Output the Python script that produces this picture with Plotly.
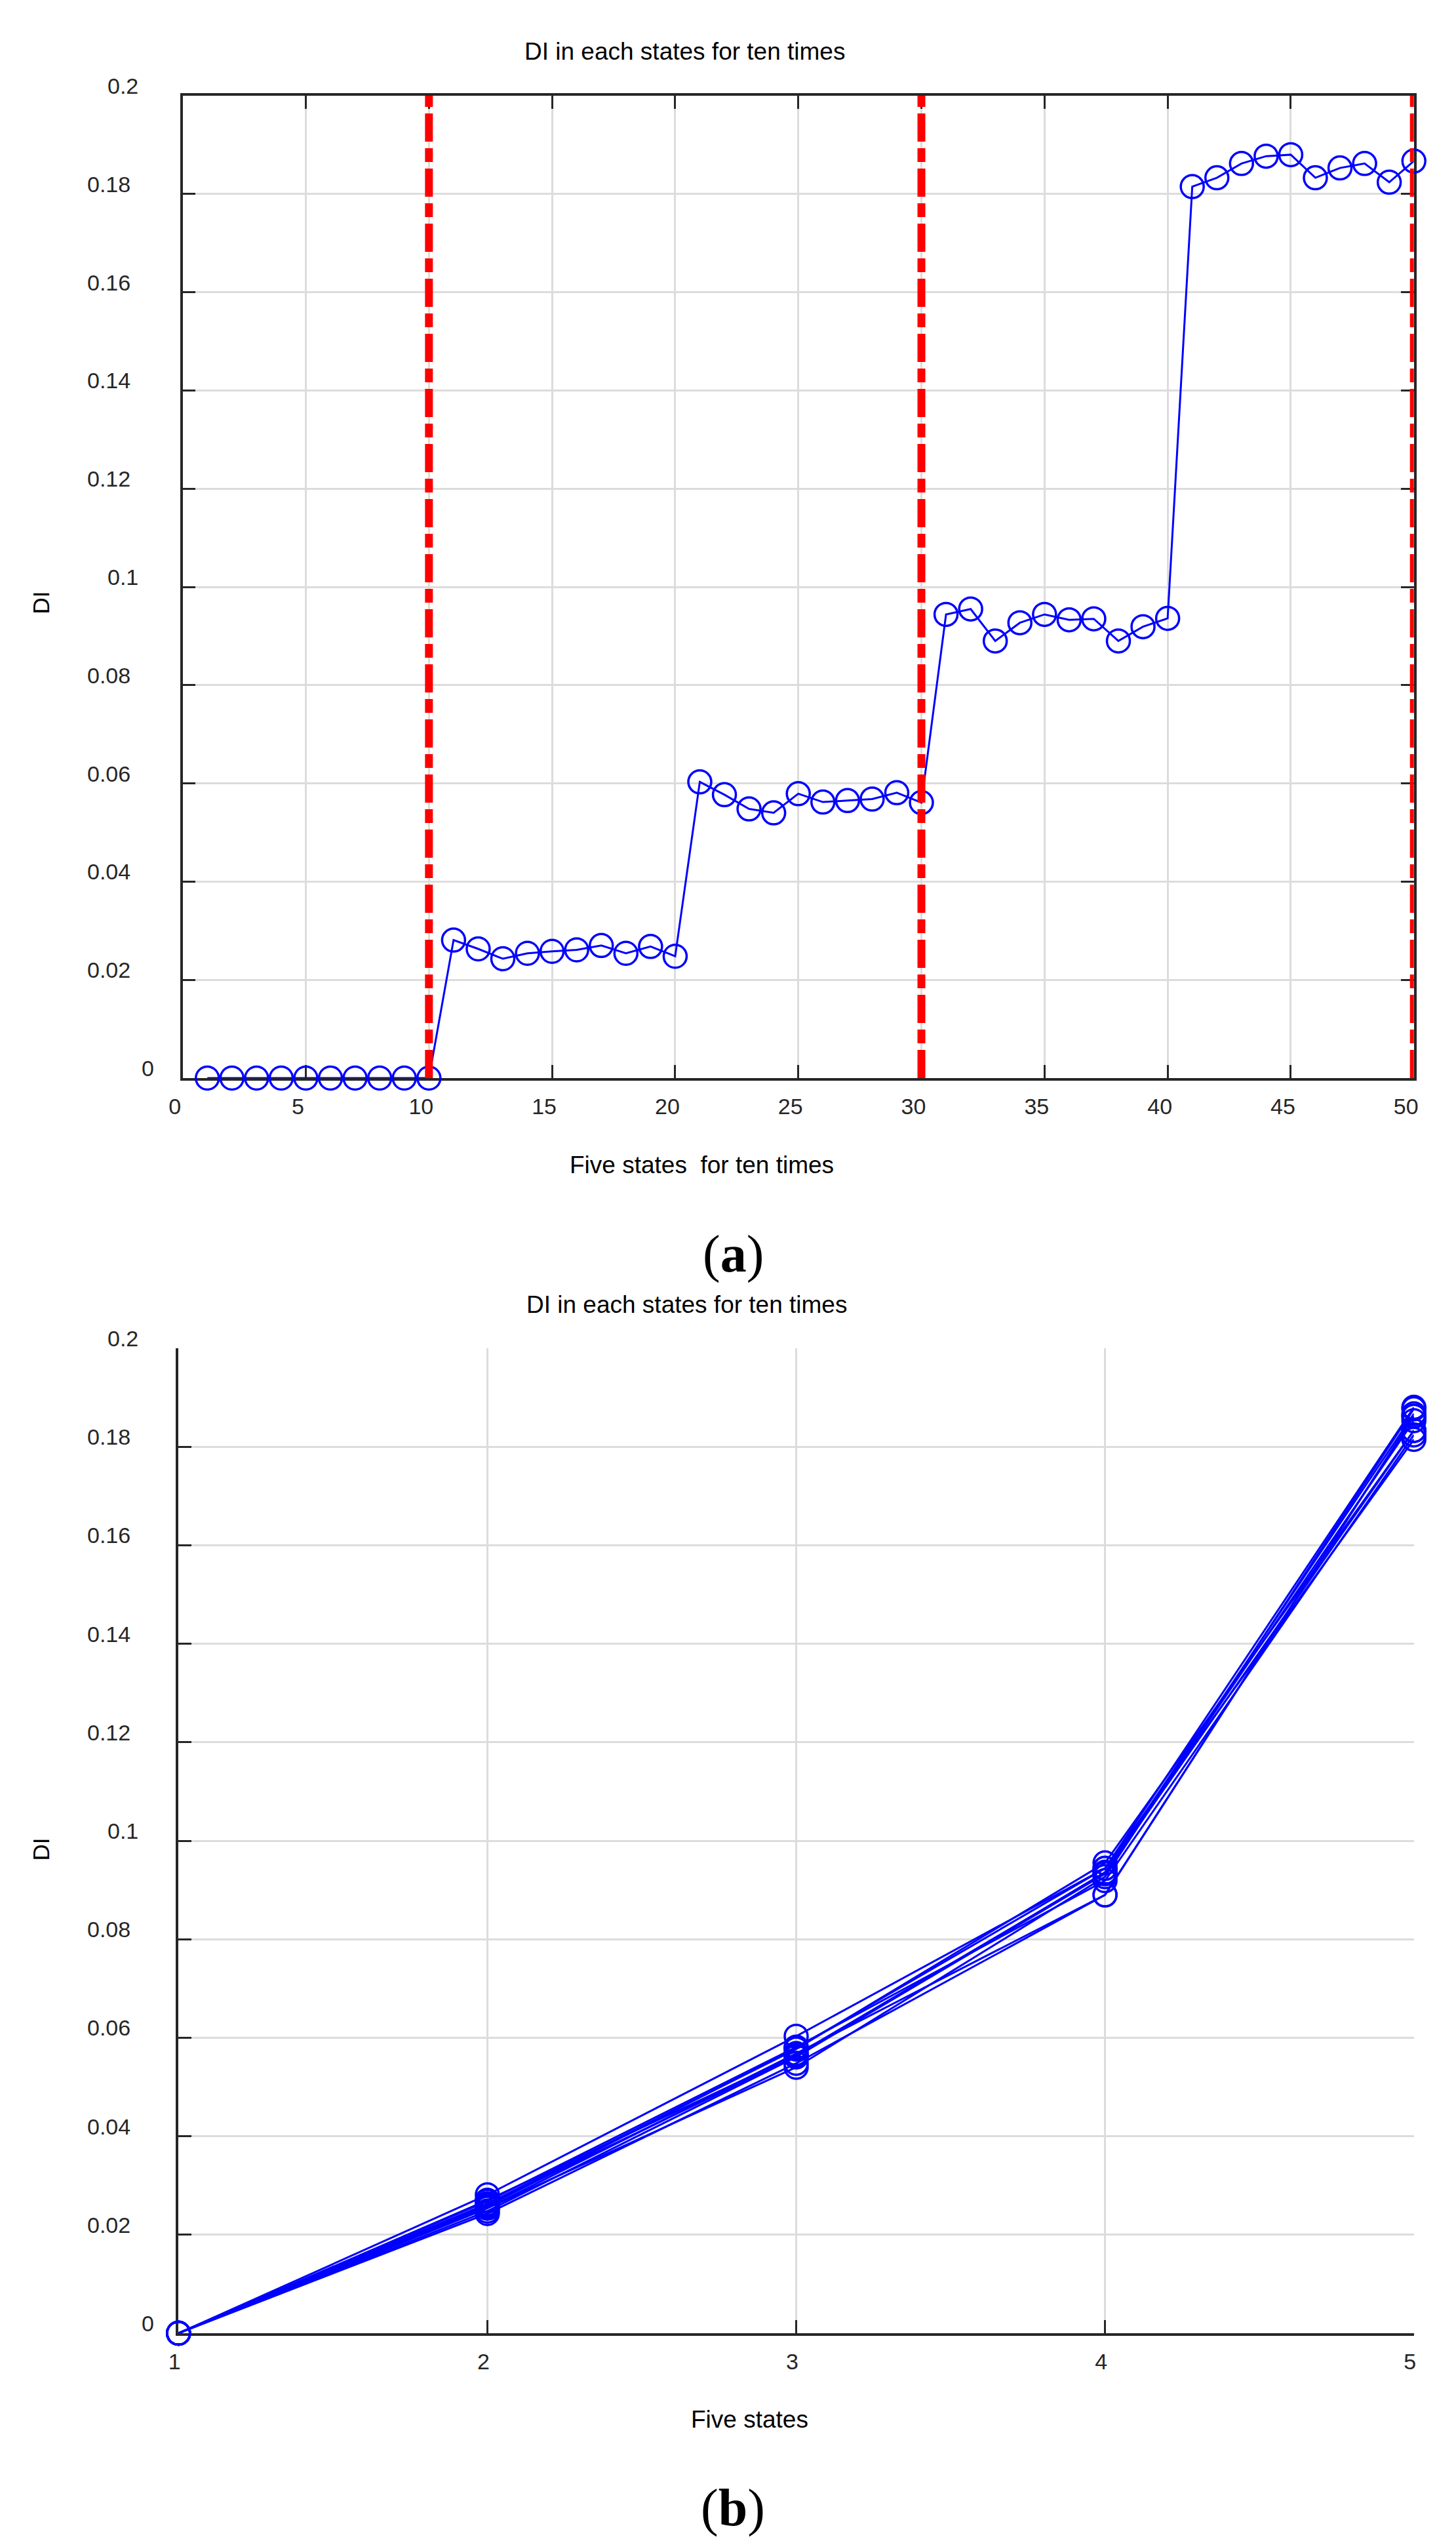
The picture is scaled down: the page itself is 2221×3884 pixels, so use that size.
import plotly.graph_objects as go

# DI values, ten runs per state
state1 = [0, 0, 0, 0, 0, 0, 0, 0, 0, 0]
state2 = [0.0281, 0.0263, 0.0243, 0.0254, 0.0258, 0.0261, 0.0270, 0.0254, 0.0268, 0.0248]
state3 = [0.0603, 0.0577, 0.0548, 0.0540, 0.0579, 0.0562, 0.0565, 0.0568, 0.0581, 0.0561]
state4 = [0.0944, 0.0955, 0.0890, 0.0927, 0.0944, 0.0933, 0.0935, 0.0890, 0.0919, 0.0936]
state5 = [0.1815, 0.1833, 0.1862, 0.1877, 0.1880, 0.1833, 0.1853, 0.1862, 0.1824, 0.1867]

states = [1, 2, 3, 4, 5]
boundaries = [10, 30, 50]
yticks = [0, 0.02, 0.04, 0.06, 0.08, 0.1, 0.12, 0.14, 0.16, 0.18, 0.2]
ytick_labels = ['0', '0.02', '0.04', '0.06', '0.08', '0.1', '0.12', '0.14', '0.16', '0.18', '0.2']

W, H = 2221, 3884
BLUE = '#0000ff'
AX = '#262626'
GRID = '#dcdcdc'
SANS = 'Liberation Sans, Arial, sans-serif'
SERIF = 'Liberation Serif, Times New Roman, serif'

all_runs = state1 + state2 + state3 + state4 + state5
run_index = list(range(1, len(all_runs) + 1))

fig = go.Figure()

# (a) all fifty measurements in sequence
fig.add_trace(go.Scatter(x=run_index, y=all_runs, mode='lines+markers',
                         line=dict(color=BLUE, width=3),
                         marker=dict(symbol='circle-open', size=35, color=BLUE, line=dict(width=3.5)),
                         cliponaxis=False, xaxis='x', yaxis='y'))
for b in boundaries:
    fig.add_trace(go.Scatter(x=[b, b], y=[0, 0.2], mode='lines',
                             line=dict(color='#ff0000', width=12, dash='43px,10px,21px,10px'),
                             cliponaxis=False, xaxis='x', yaxis='y'))

# (b) one line per run across the five states
for i in range(10):
    ys = [state1[i], state2[i], state3[i], state4[i], state5[i]]
    fig.add_trace(go.Scatter(x=states, y=ys, mode='lines+markers',
                             line=dict(color=BLUE, width=3),
                             marker=dict(symbol='circle-open', size=35, color=BLUE, line=dict(width=3.5)),
                             cliponaxis=False, xaxis='x2', yaxis='y2'))

def px_x(p):
    return p / W

def px_y(p):
    return 1 - p / H

axis_common = dict(showline=True, linecolor=AX, linewidth=3.5, ticks='inside', ticklen=20,
                   tickwidth=3, tickcolor=AX, showgrid=True, gridcolor=GRID, gridwidth=3,
                   zeroline=False, layer='below traces',
                   tickfont=dict(family=SANS, size=34, color=AX))

top_l, top_r, top_t, top_b = 261, 2163, 146, 1644
bot_l, bot_r, bot_t, bot_b = 254.5, 2163, 2056, 3558

fig.update_layout(
    width=W, height=H, margin=dict(l=0, r=0, t=0, b=0),
    paper_bgcolor='white', plot_bgcolor='white', showlegend=False,
    xaxis=dict(axis_common, domain=[px_x(top_l), px_x(top_r)], range=[0, 50], dtick=5,
               mirror='ticks', anchor='y', ticklabelshift=-12, ticklabelstandoff=10),
    yaxis=dict(axis_common, domain=[px_y(top_b), px_y(top_t)], range=[0, 0.2],
               tickvals=yticks, showticklabels=False, mirror='ticks', anchor='x'),
    xaxis2=dict(axis_common, domain=[px_x(bot_l), px_x(bot_r)], range=[1, 5], dtick=1,
                anchor='y2', ticklabelshift=-6, ticklabelstandoff=10),
    yaxis2=dict(axis_common, domain=[px_y(bot_b), px_y(bot_t)], range=[0, 0.2],
                tickvals=yticks, showticklabels=False, anchor='x2'),
)

ann = []
# y tick labels, placed like the original figure
for yref, left in (('y', top_l), ('y2', bot_l)):
    for v, lab in zip(yticks, ytick_labels):
        right = 219 - 12 * (len(lab) - 1)
        ann.append(dict(text=lab, xref='paper', yref=yref, x=px_x(left), y=v,
                        xanchor='right', yanchor='middle', xshift=right - left, yshift=15,
                        showarrow=False, font=dict(family=SANS, size=34, color=AX)))

def label(text, x, y, size=37, family=SANS, angle=0):
    ann.append(dict(text=text, xref='paper', yref='paper', x=px_x(x), y=px_y(y),
                    xanchor='center', yanchor='middle', showarrow=False, textangle=angle,
                    font=dict(family=family, size=size, color='black')))

label('DI in each states for ten times', 1037, 79)
label('Five states\u00a0 for ten times', 1063, 1777)
label('(<b>a</b>)', 1112, 1912, size=80, family=SERIF)
label('DI', 42, 919, size=35, angle=-90)

label('DI in each states for ten times', 1040, 1990)
label('Five states', 1137, 3689)
label('(<b>b</b>)', 1111, 3824, size=80, family=SERIF)
label('DI', 42, 2820, size=35, angle=-90)

fig.update_layout(annotations=ann)

# the page's default body margin would push the figure off its measured position
fig.write_html("out.html", config={'displayModeBar': False},
               post_script="document.body.style.margin='0px';")
